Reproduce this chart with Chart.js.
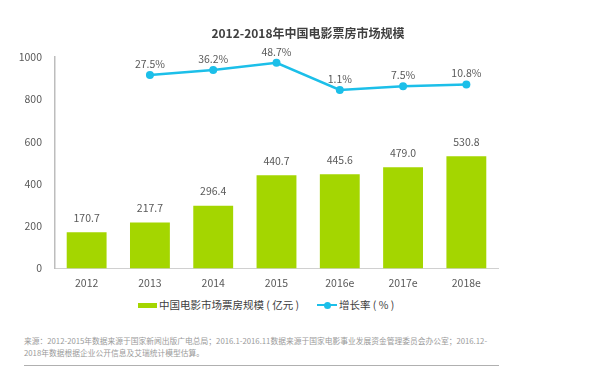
<!DOCTYPE html>
<html>
<head>
<meta charset="utf-8">
<script src="https://cdn.jsdelivr.net/npm/chart.js@4/dist/chart.umd.min.js"></script>
<style>
  body { margin: 0; background: #fff; font-family: "Noto Sans CJK SC", "Noto Sans", sans-serif; }
  #wrap { position: relative; width: 616px; height: 368px; overflow: hidden; }
  #title { position: absolute; left: 0; width: 616px; top: 24px; text-align: center; font-size: 12px; font-weight: bold; color: #404040; }
  #chartBox { position: absolute; left: 0; top: 0; width: 616px; height: 297px; }
  #legend { position: absolute; top: 297px; left: 0; width: 616px; font-size: 10.5px; color: #404040; }
  .item { position: absolute; top: 0; white-space: nowrap; line-height: 16px; }
  .box { display: inline-block; width: 19px; height: 5px; background: #a4d600; vertical-align: middle; margin-right: 2px; position: relative; top: -1px; }
  .ln { display: inline-block; width: 20px; height: 2px; background: #1cbfe9; vertical-align: middle; margin-right: 2px; position: relative; top: -1px; }
  .ln::after { content: ""; position: absolute; left: 7px; top: -2.5px; width: 7px; height: 7px; border-radius: 50%; background: #1cbfe9; }
  #note { position: absolute; left: 24px; top: 335px; width: 560px; font-size: 7.75px; line-height: 12px; color: #9a9a9a; }
  #rule { position: absolute; left: 24px; top: 365px; width: 475px; height: 1px; background: #b0b0b0; }
</style>
</head>
<body>
<div id="wrap">
  <div id="chartBox"><canvas id="boxOfficeChart"></canvas></div>
  <div id="title">2012-2018年中国电影票房市场规模</div>
  <div id="legend">
    <span class="item" style="left:138px"><span class="box"></span>中国电影市场票房规模 ( 亿元 )</span>
    <span class="item" style="left:317px"><span class="ln"></span>增长率 ( % )</span>
  </div>
  <div id="note">来源：2012-2015年数据来源于国家新闻出版广电总局；2016.1-2016.11数据来源于国家电影事业发展资金管理委员会办公室；2016.12-<br>2018年数据根据企业公开信息及艾瑞统计模型估算。</div>
  <div id="rule"></div>
</div>
<script>
const years = ["2012", "2013", "2014", "2015", "2016e", "2017e", "2018e"];
const boxOffice = [170.7, 217.7, 296.4, 440.7, 445.6, 479.0, 530.8];
const growthRate = [null, 27.5, 36.2, 48.7, 1.1, 7.5, 10.8];
const yTicks = [0, 200, 400, 600, 800, 1000];

const labelFont = '"Noto Sans CJK SC", "Noto Sans", sans-serif';

const valueLabels = {
  id: "valueLabels",
  afterDatasetsDraw(chart) {
    const ctx = chart.ctx;
    ctx.save();
    ctx.font = "10.5px " + labelFont;
    ctx.fillStyle = "#595959";
    ctx.textAlign = "center";
    ctx.textBaseline = "bottom";
    chart.data.datasets.forEach((ds, i) => {
      const meta = chart.getDatasetMeta(i);
      meta.data.forEach((el, j) => {
        const v = ds.data[j];
        if (v === null) return;
        const txt = ds.type === "line" ? v.toFixed(1) + "%" : v.toFixed(1);
        const gap = ds.type === "line" ? 6 : 9;
        ctx.fillText(txt, el.x, el.y - gap);
      });
    });
    ctx.restore();
  }
};

const ctx = document.getElementById("boxOfficeChart").getContext("2d");
new Chart(ctx, {
  data: {
    labels: years,
    datasets: [
      {
        type: "line",
        label: "增长率（%）",
        data: growthRate,
        yAxisID: "y2",
        borderColor: "#1cbfe9",
        backgroundColor: "#1cbfe9",
        borderWidth: 2.5,
        pointRadius: 4,
        pointBackgroundColor: "#1cbfe9",
        pointBorderWidth: 0,
        tension: 0,
        spanGaps: false
      },
      {
        type: "bar",
        label: "中国电影市场票房规模（亿元）",
        data: boxOffice,
        yAxisID: "y",
        backgroundColor: "#a4d600",
        barPercentage: 0.63,
        categoryPercentage: 1
      }
    ]
  },
  options: {
    responsive: true,
    maintainAspectRatio: false,
    animation: false,
    layout: { padding: { top: 57, right: 118, bottom: 0, left: 0 } },
    plugins: { legend: { display: false }, tooltip: { enabled: false } },
    scales: {
      x: {
        grid: { display: false, drawTicks: false },
        border: { color: "#d0d0d0", width: 1 },
        ticks: { color: "#595959", font: { size: 10.5, family: labelFont }, padding: 8 }
      },
      y: {
        min: 0,
        max: 1000,
        afterBuildTicks: (s) => { s.ticks = yTicks.map((v) => ({ value: v })); },
        afterFit: (s) => { s.width = 55; },
        grid: { display: false, drawTicks: false },
        border: { color: "#bdbdbd", width: 1.5 },
        ticks: {
          color: "#595959",
          font: { size: 10.5, family: labelFont },
          padding: 13,
          callback: (v) => String(v)
        }
      },
      y2: {
        display: false,
        min: -313,
        max: 59
      }
    }
  },
  plugins: [valueLabels]
});
</script>
</body>
</html>
